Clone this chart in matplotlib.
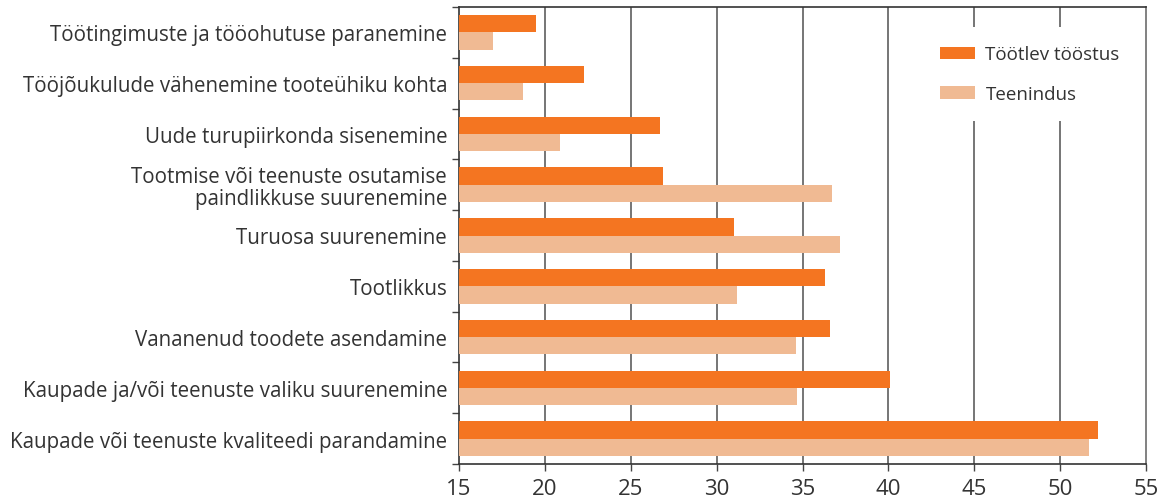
import matplotlib
matplotlib.use("Agg")
import matplotlib.pyplot as plt
import numpy as np

# Categories, top to bottom
categories = [
    "Töötingimuste ja tööohutuse paranemine",
    "Tööjõukulude vähenemine tooteühiku kohta",
    "Uude turupiirkonda sisenemine",
    "Tootmise või teenuste osutamise\npaindlikkuse suurenemine",
    "Turuosa suurenemine",
    "Tootlikkus",
    "Vananenud toodete asendamine",
    "Kaupade ja/või teenuste valiku suurenemine",
    "Kaupade või teenuste kvaliteedi parandamine",
]
tootlev = [19.5, 22.3, 26.7, 26.9, 31.0, 36.3, 36.6, 40.1, 52.2]
teenindus = [17.0, 18.7, 20.9, 36.7, 37.2, 31.2, 34.6, 34.7, 51.7]
xticks = [15, 20, 25, 30, 35, 40, 45, 50, 55]

orange = "#F47521"
light = "#F0BA93"
text_col = "#333333"

plt.rcParams["font.family"] = ["Open Sans", "DejaVu Sans"]

fig = plt.figure(figsize=(11.58, 5.02), dpi=100)
ax = fig.add_axes([459 / 1158, 1 - 465 / 502, (1146 - 459) / 1158, (465 - 8) / 502])

y = np.arange(len(categories))
h = 0.34
ax.barh(y - h / 2, tootlev, height=h, color=orange, label="Töötlev tööstus", zorder=3)
ax.barh(y + h / 2, teenindus, height=h, color=light, label="Teenindus", zorder=3)

ax.set_xlim(15, 55)
ax.set_ylim(len(categories) - 0.5, -0.5)

# vertical gridlines
for v in xticks[1:-1]:
    ax.axvline(v, color="#6a6a6a", lw=1.3, zorder=1)

ax.set_xticks(xticks)
ax.set_xticklabels([str(v) for v in xticks], fontsize=16, color=text_col)
ax.tick_params(axis="x", length=5, width=1, color="#444444", pad=5)

# category labels at centers, ticks at boundaries
ax.set_yticks(y)
ax.set_yticklabels(categories, fontsize=14.8, color=text_col, linespacing=1.05)
ax.tick_params(axis="y", which="major", length=0, pad=8.5)
ax.set_yticks(np.arange(len(categories) + 1) - 0.5, minor=True)
ax.tick_params(axis="y", which="minor", length=5, width=1, color="#444444")

for s in ["left", "bottom", "top"]:
    ax.spines[s].set_color("#333333")
    ax.spines[s].set_linewidth(1.2)
ax.spines["right"].set_color("#777777")
ax.spines["right"].set_linewidth(1.3)

leg = ax.legend(loc="upper left", bbox_to_anchor=(922 / 1158, 1 - 28 / 502),
                bbox_transform=fig.transFigure, frameon=True, fontsize=13.5,
                handlelength=1.87, handleheight=0.64, handletextpad=0.53,
                labelspacing=1.15, borderpad=0.98, borderaxespad=0, fancybox=False)
leg.get_frame().set_facecolor("white")
leg.get_frame().set_edgecolor("none")
leg.get_frame().set_alpha(1)
leg.set_zorder(5)
for t in leg.get_texts():
    t.set_color(text_col)

fig.savefig("out.png", dpi=100)
